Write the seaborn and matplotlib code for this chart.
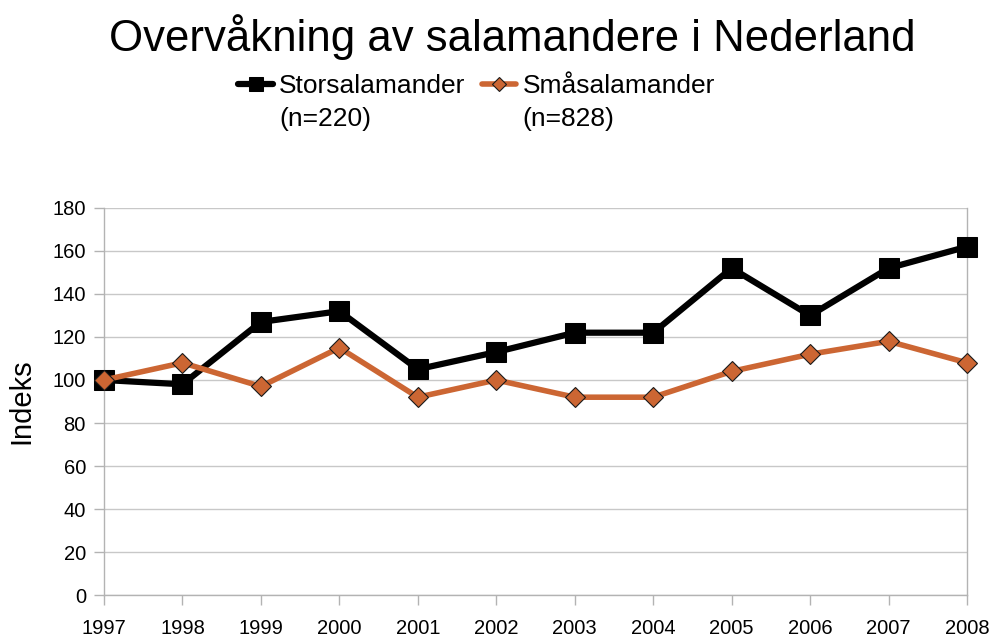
import pandas as pd
import seaborn as sns
import matplotlib.pyplot as plt

years = [1997, 1998, 1999, 2000, 2001, 2002, 2003, 2004, 2005, 2006, 2007, 2008]
stor = [100, 98, 127, 132, 105, 113, 122, 122, 152, 130, 152, 162]
smaa = [100, 108, 97, 115, 92, 100, 92, 92, 104, 112, 118, 108]
labels = ["Storsalamander\n(n=220)", "Småsalamander\n(n=828)"]

df = pd.DataFrame({"År": years, "stor": stor, "smaa": smaa})

sns.set_theme(style="white")
plt.rcParams['font.family'] = ['Liberation Sans', 'DejaVu Sans']
plt.rcParams['text.color'] = 'black'
plt.rcParams['axes.labelcolor'] = 'black'

fig = plt.figure(figsize=(9.95, 6.37), dpi=100)
ax = fig.add_axes([0.1045, 0.0659, 0.8674, 0.6076])

sns.lineplot(data=df, x="År", y="stor", ax=ax, color="black", linewidth=4.5,
             marker="s", markersize=14, markeredgecolor="black",
             label=labels[0], clip_on=False, zorder=3)
sns.lineplot(data=df, x="År", y="smaa", ax=ax, color="#cc6633", linewidth=4,
             marker="D", markersize=10, markeredgecolor="#1a1a1a", markeredgewidth=0.8,
             label=labels[1], clip_on=False, zorder=4)

ax.set_xlim(1997, 2008)
ax.set_ylim(0, 180)
ax.set_xticks(years)
ax.set_yticks(range(0, 181, 20))
ax.yaxis.grid(True, color="#c8c8c8", linewidth=1)
ax.set_axisbelow(True)
for side in ["left", "right", "bottom"]:
    ax.spines[side].set_color("#b3b3b3")
    ax.spines[side].set_linewidth(1)
ax.spines["top"].set_visible(False)
ax.tick_params(axis="both", which="both", length=7, width=1, color="#b3b3b3",
               labelsize=14.5, labelcolor="black", direction="out",
               bottom=True, left=True)
ax.tick_params(axis="x", pad=10)
ax.tick_params(axis="y", pad=6)
ax.set_xlabel("")
ax.set_ylabel("Indeks", fontsize=21, labelpad=12)

ax.legend_.remove()
h, l = ax.get_legend_handles_labels()
leg = fig.legend(h, l, loc="upper center", bbox_to_anchor=(0.479, 0.908), ncol=2,
                 frameon=False, fontsize=19, handlelength=1.3, columnspacing=0.6,
                 handletextpad=0.25, markerscale=0.75, borderaxespad=0.2)
for t in leg.get_texts():
    t.set_linespacing(1.45)
# put the handle next to the first line of each label
for col in leg._legend_handle_box.get_children():
    for item in col.get_children():
        item.align = "top"

fig.suptitle("Overvåkning av salamandere i Nederland", fontsize=31.5, y=0.978, x=0.515)

fig.savefig("out.png", dpi=100)
